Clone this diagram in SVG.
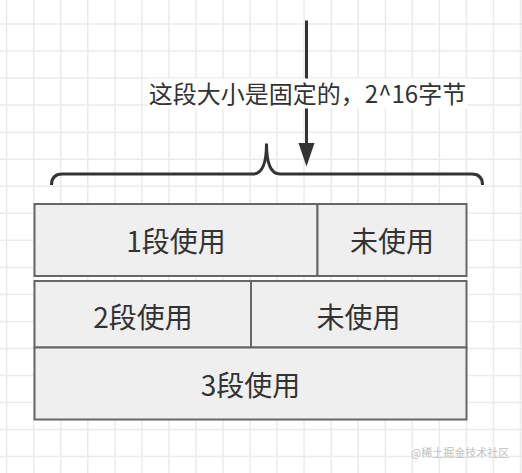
<svg xmlns="http://www.w3.org/2000/svg" width="522" height="473" viewBox="0 0 522 473">
<style>
.grid{stroke:#ebebeb;stroke-width:1.5;fill:none}
.cell{fill:#efefef;stroke:#666666;stroke-width:2}
.t{font-family:"Noto Sans CJK SC","Noto Sans",sans-serif;fill:#333333;text-anchor:middle}
.big{font-size:28px}
.lab{font-size:24px}
.conn{stroke:#333333;stroke-width:3;fill:none}
</style>
<defs>
<marker id="ah" markerUnits="userSpaceOnUse" markerWidth="18" markerHeight="26" refX="17" refY="8" orient="auto">
<path d="M0 0 L17 8 L0 16 L6 8 Z" fill="#333333"/>
</marker>
</defs>
<rect width="522" height="473" fill="#ffffff"/>
<path class="grid" d="M6.7 0V473M33.7 0V473M60.8 0V473M87.8 0V473M114.9 0V473M141.9 0V473M168.9 0V473M196 0V473M223 0V473M250.1 0V473M277.1 0V473M304.1 0V473M331.2 0V473M358.2 0V473M385.3 0V473M412.3 0V473M439.3 0V473M466.4 0V473M493.4 0V473M520.5 0V473M0 24H522M0 51H522M0 78.1H522M0 105.1H522M0 132.2H522M0 159.2H522M0 186.2H522M0 213.3H522M0 240.3H522M0 267.4H522M0 294.4H522M0 321.4H522M0 348.5H522M0 375.5H522M0 402.6H522M0 429.6H522M0 456.6H522"/>
<g id="connectors">
<path class="conn" d="M306.5 20.5 V145"/>
<path d="M298.5 143 L314.5 143 L306.5 166.5 Z" fill="#333333"/>
<path id="brace" class="conn" d="M51.5 185 Q51.5 174 62.5 174 L253 174 Q266.5 174 266.5 143.5 Q266.5 174 280 174 L471.5 174 Q482.5 174 482.5 185"/>
</g>
<g id="label">
<rect x="148" y="78.5" width="320" height="30" fill="#ffffff"/>
<text class="t lab" x="307.5" y="103">这段大小是固定的，2^16字节</text>
</g>
<g id="seg1-used">
<rect class="cell" x="34.5" y="204" width="283" height="72"/>
<text class="t big" x="176" y="251.5">1段使用</text>
</g>
<g id="seg1-unused">
<rect class="cell" x="317.5" y="204" width="149" height="72"/>
<text class="t big" x="392" y="251.5">未使用</text>
</g>
<g id="seg2-used">
<rect class="cell" x="34.5" y="281" width="216.5" height="66.5"/>
<text class="t big" x="143" y="327.5">2段使用</text>
</g>
<g id="seg2-unused">
<rect class="cell" x="251" y="281" width="215.5" height="66.5"/>
<text class="t big" x="358.5" y="327.5">未使用</text>
</g>
<g id="seg3-used">
<rect class="cell" x="34.5" y="347.5" width="432" height="72"/>
<text class="t big" x="250.5" y="395.5">3段使用</text>
</g>
<text x="460" y="457" font-family="Noto Sans CJK SC,sans-serif" font-size="11" fill="#c2c2c2" text-anchor="middle">@稀土掘金技术社区</text>
</svg>
